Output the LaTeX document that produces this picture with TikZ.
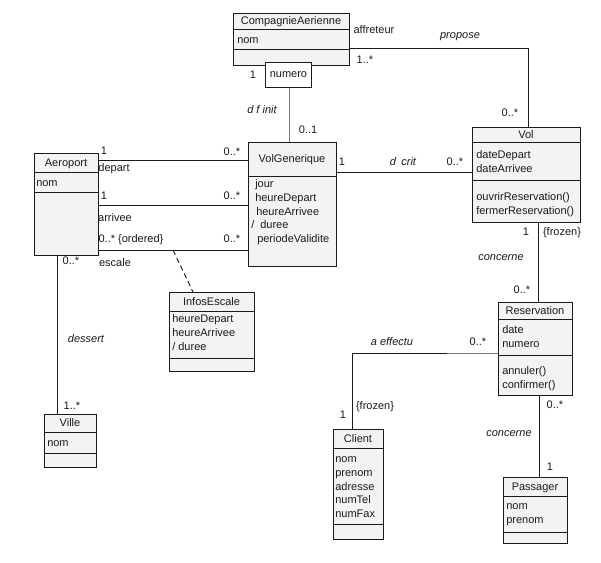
\documentclass[tikz,border=0pt]{standalone}
\usepackage{fontspec}
\setmainfont{Liberation Sans}
\definecolor{boxfill}{HTML}{F3F3F3}
\definecolor{ink}{HTML}{1A1A1A}
\definecolor{lightline}{HTML}{7A7A7A}
\newcommand\umlfont{\fontsize{8.25pt}{10.4pt}\selectfont}
\tikzset{
  clsbox/.style={draw=ink, fill=boxfill, line width=0.7pt, inner sep=0pt, outer sep=0pt},
  sepline/.style={draw=ink, line width=0.7pt},
  conn/.style={draw=ink, line width=0.7pt},
  lbl/.style={inner sep=0pt, text height=6pt, text depth=0pt, font=\umlfont, text=ink},
  rolelbl/.style={lbl, font=\umlfont\itshape},
  attr/.style={inner sep=0pt, align=left, anchor=north west, font=\umlfont, text=ink},
}
% name, x1, y1, x2, y2, first separator y, title
\newcommand\umlclass[7]{%
  \node[clsbox, minimum width={(#4-#2)*0.75pt}, minimum height={(#5-#3)*0.75pt}, anchor=north west] (#1) at (#2,#3) {};
  \draw[sepline] (#1.west |- 0,#6) -- (#1.east |- 0,#6);
  \node[lbl] (#1-t) at ({(#2+#4)/2},{(#3+#6)/2}) {#7};
}
\begin{document}
\begin{tikzpicture}[x=0.75pt, y=-0.75pt]
\useasboundingbox (0,0) rectangle (601,563);
\fill[white] (0,0) rectangle (601,563);

% ---------- connectors (drawn first) ----------
\umlclass{comp}{233}{13}{349}{65}{29}{CompagnieAerienne}
\draw[sepline] (comp.west |- 0,49) -- (comp.east |- 0,49);
\node[attr] (comp-a) at (237,33.3) {\strut nom};

\umlclass{vol}{472}{127}{580}{222}{142}{Vol}
\draw[sepline] (vol.west |- 0,180) -- (vol.east |- 0,180);
\node[attr] (vol-a) at (476,148.3) {\strut dateDepart\\\strut dateArrivee};
\node[attr] (vol-m) at (476,190.3) {\strut ouvrirReservation()\\\strut fermerReservation()};

\umlclass{volgen}{248}{142}{336}{266}{176}{VolGenerique}
\node[attr] (volgen-a) at (251,177.3) {\strut\hspace{3pt}jour\\\strut\hspace{3pt}heureDepart\\\strut\hspace{3.75pt}heureArrivee\\\strut /\hspace{4.5pt}duree\\\strut\hspace{4.5pt}periodeValidite};

\umlclass{aero}{34}{153}{98}{255}{172}{Aeroport}
\draw[sepline] (aero.west |- 0,192) -- (aero.east |- 0,192);
\node[attr] (aero-a) at (36,176.3) {\strut nom};

\umlclass{ville}{44}{414}{96}{467}{432}{Ville}
\draw[sepline] (ville.west |- 0,453) -- (ville.east |- 0,453);
\node[attr] (ville-a) at (47,436.3) {\strut nom};

\umlclass{infos}{169}{292}{254}{371}{311}{InfosEscale}
\draw[sepline] (infos.west |- 0,358) -- (infos.east |- 0,358);
\node[attr] (infos-a) at (172,312.3) {\strut heureDepart\\\strut heureArrivee\\\strut / duree};

\umlclass{resa}{498}{302}{572}{395}{319}{Reservation}
\draw[sepline] (resa.west |- 0,355) -- (resa.east |- 0,355);
\node[attr] (resa-a) at (502,323.3) {\strut date\\\strut numero};
\node[attr] (resa-m) at (502,364.3) {\strut annuler()\\\strut confirmer()};

\umlclass{client}{333}{429}{383}{539}{448}{Client}
\draw[sepline] (client.west |- 0,524) -- (client.east |- 0,524);
\node[attr] (client-a) at (335,452.3) {\strut nom\\\strut prenom\\\strut adresse\\\strut numTel\\\strut numFax};

\umlclass{pass}{503}{477}{567}{543}{496}{Passager}
\draw[sepline] (pass.west |- 0,532) -- (pass.east |- 0,532);
\node[attr] (pass-a) at (506,499.3) {\strut nom\\\strut prenom};

% qualifier
\node[draw=ink, fill=white, line width=0.7pt, inner sep=0pt, anchor=north west,
      minimum width={46*0.75pt}, minimum height={25*0.75pt}, font=\umlfont, text=ink] (numero) at (265,62) {numero};

% ---------- connectors ----------
\draw[conn] (comp.east |- 0,48) -| (vol.north -| 528,0);
\draw[conn, draw=lightline] (numero.south -| 289,0) -- (volgen.north -| 289,0);
\draw[conn] (aero.east |- 0,160) -- (volgen.west |- 0,160);
\draw[conn] (aero.east |- 0,205) -- (volgen.west |- 0,205);
\draw[conn] (aero.east |- 0,250) -- (volgen.west |- 0,250);
\coordinate (escmid) at (173,250);
\draw[conn, dashed, dash pattern=on 4pt off 2.5pt] (escmid) -- (infos.north -| 193,0);
\draw[conn] (volgen.east |- 0,172) -- (vol.west |- 0,172);
\draw[conn] (vol.south -| 538,0) -- (resa.north -| 538,0);
\coordinate (effbend) at (447,353);
\draw[conn, draw=lightline] (resa.west |- 0,353) -- (effbend);
\draw[conn] (effbend) -| (client.north -| 352,0);
\draw[conn] (aero.south -| 57,0) -- (ville.north -| 57,0);
\draw[conn] (resa.south -| 539,0) -- (pass.north -| 539,0);

% ---------- labels ----------
\node[lbl] (l1) at (374,30) {affreteur};
\node[rolelbl] (l2) at (460,35) {propose};
\node[lbl] (l3) at (365,60) {1..*};
\node[lbl] (l4) at (253,75) {1};
\node[lbl] (l5) at (510,113) {0..*};
\node[rolelbl] (l6) at (262,110) {d f init};
\node[lbl] (l7) at (308,130) {0..1};

\node[lbl] (l8) at (104,151) {1};
\node[lbl] (l9) at (114,168) {depart};
\node[lbl] (l10) at (232,152) {0..*};
\node[lbl] (l11) at (104,196) {1};
\node[lbl] (l12) at (115,218) {arrivee};
\node[lbl] (l13) at (232,196) {0..*};
\node[lbl] (l14) at (131,239) {0..* \{ordered\}};
\node[lbl] (l15) at (232,239) {0..*};
\node[lbl] (l16) at (115,263) {escale};
\node[lbl] (l17) at (71,261) {0..*};
\node[rolelbl] (l18) at (86,339) {dessert};
\node[lbl] (l19) at (72,406) {1..*};

\node[lbl] (l20) at (342,162) {1};
\node[rolelbl] (l21) at (403,162) {d\hspace{4pt}crit};
\node[lbl] (l22) at (455,162) {0..*};

\node[lbl] (l23) at (526,232) {1};
\node[lbl] (l24) at (562,232) {\{frozen\}};
\node[rolelbl] (l25) at (501,257) {concerne};
\node[lbl] (l26) at (522,290) {0..*};

\node[rolelbl] (l27) at (392,342) {a effectu};
\node[lbl] (l28) at (478,342) {0..*};
\node[lbl] (l29) at (375,406) {\{frozen\}};
\node[lbl] (l30) at (343,415) {1};

\node[lbl] (l31) at (555,405) {0..*};
\node[rolelbl] (l32) at (509,433) {concerne};
\node[lbl] (l33) at (550,467) {1};
\end{tikzpicture}
\end{document}
